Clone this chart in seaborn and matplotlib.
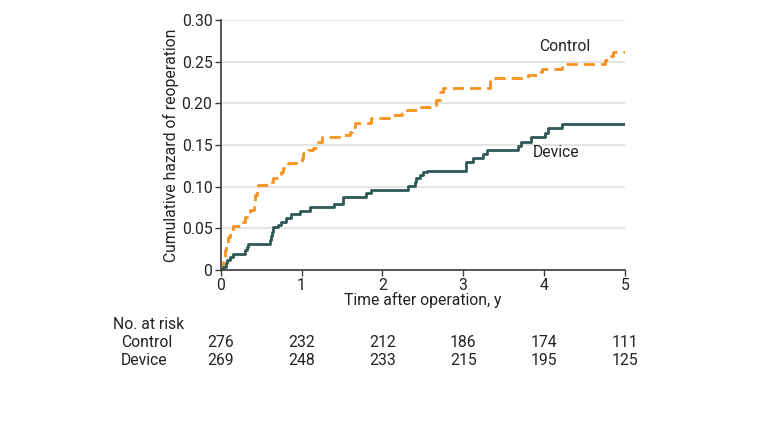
import matplotlib
matplotlib.use("Agg")
import matplotlib.pyplot as plt
import matplotlib.transforms as mtransforms
from matplotlib.ticker import FuncFormatter
import pandas as pd
import seaborn as sns

# step curves (years, cumulative hazard)
device_t = [0, 0.03, 0.06, 0.08, 0.11, 0.15, 0.30, 0.33, 0.34, 0.61, 0.62, 0.64, 0.65,
            0.71, 0.75, 0.81, 0.87, 0.98, 1.10, 1.40, 1.51, 1.80, 1.86, 2.32, 2.40, 2.42,
            2.46, 2.50, 2.55, 3.03, 3.12, 3.25, 3.29, 3.68, 3.71, 3.84, 4.01, 4.05, 4.22, 5.0]
device_h = [0, 0.003, 0.008, 0.012, 0.016, 0.019, 0.024, 0.028, 0.031, 0.036, 0.041, 0.046,
            0.051, 0.054, 0.058, 0.062, 0.067, 0.071, 0.075, 0.079, 0.088, 0.092, 0.096,
            0.101, 0.106, 0.110, 0.114, 0.117, 0.119, 0.129, 0.134, 0.139, 0.144, 0.149,
            0.154, 0.159, 0.164, 0.170, 0.175, 0.175]

control_t = [0, 0.01, 0.03, 0.05, 0.07, 0.09, 0.11, 0.15, 0.28, 0.30, 0.32, 0.36, 0.41, 0.43,
             0.45, 0.46, 0.59, 0.65, 0.75, 0.77, 0.83, 1.00, 1.02, 1.08, 1.14, 1.20, 1.25,
             1.49, 1.60, 1.62, 1.66, 1.86, 2.13, 2.24, 2.30, 2.48, 2.63, 2.67, 2.71, 2.75,
             3.33, 3.80, 3.95, 3.97, 4.22, 4.75, 4.81, 4.86, 5.0]
control_h = [0, 0.004, 0.016, 0.024, 0.030, 0.040, 0.046, 0.053, 0.058, 0.064, 0.070, 0.072,
             0.080, 0.090, 0.098, 0.102, 0.106, 0.110, 0.118, 0.122, 0.128, 0.134, 0.140,
             0.144, 0.146, 0.153, 0.159, 0.162, 0.166, 0.172, 0.176, 0.182, 0.186, 0.188,
             0.192, 0.196, 0.198, 0.204, 0.214, 0.218, 0.230, 0.234, 0.238, 0.241, 0.247,
             0.252, 0.257, 0.261, 0.261]

risk_years = [0, 1, 2, 3, 4, 5]
risk_control = [276, 232, 212, 186, 174, 111]
risk_device = [269, 248, 233, 215, 195, 125]

y_ticks = [0, 0.05, 0.10, 0.15, 0.20, 0.25, 0.30]

orange = "#f7921e"
teal = "#2e5955"
dark = "#3a3a3a"
txt = "#222222"
fs = 11.3

sns.set_theme(style="white")
plt.rcParams["font.family"] = ["Roboto", "DejaVu Sans"]
plt.rcParams["font.size"] = fs

df_dev = pd.DataFrame({"t": device_t, "h": device_h})
df_ctl = pd.DataFrame({"t": control_t, "h": control_h})

fig = plt.figure(figsize=(7.8, 4.38), dpi=100)
ax = fig.add_axes([0.283, 0.3836, 0.518, 0.5708])

ax.set_axisbelow(True)
ax.yaxis.grid(True, color="#dcdcdc", lw=1.1)
ax.xaxis.grid(False)

sns.lineplot(data=df_ctl, x="t", y="h", ax=ax, color=orange, lw=2,
             drawstyle="steps-post", estimator=None, sort=False)
ax.lines[-1].set_dashes([4, 2.2])
sns.lineplot(data=df_dev, x="t", y="h", ax=ax, color=teal, lw=2,
             drawstyle="steps-post", estimator=None, sort=False)

ax.set_xlim(0, 5)
ax.set_ylim(0, 0.30)
ax.set_xticks(risk_years)
ax.set_yticks(y_ticks)
ax.yaxis.set_major_formatter(FuncFormatter(lambda v, p: "0" if v == 0 else f"{v:.2f}"))

for s in ["top", "right"]:
    ax.spines[s].set_visible(False)
for s in ["left", "bottom"]:
    ax.spines[s].set_color(dark)
    ax.spines[s].set_linewidth(1.2)
ax.tick_params(axis="both", direction="out", length=4, width=1, color=dark,
               labelcolor=txt, labelsize=fs, pad=2, left=True, bottom=True)

ax.set_xlabel("Time after operation, y", fontsize=fs, color=txt)
ax.set_ylabel("Cumulative hazard of reoperation", fontsize=fs, color=txt)
ax.xaxis.set_label_coords(0.5, -0.09)
ax.yaxis.set_label_coords(-0.103, 0.5)

ax.text(4.26, 0.2676, "Control", ha="center", va="center", fontsize=fs, color=txt)
ax.text(4.15, 0.1404, "Device", ha="center", va="center", fontsize=fs, color=txt)

# number at risk table
trans = mtransforms.blended_transform_factory(ax.transData, fig.transFigure)
fig.text(0.1445, 0.258, "No. at risk", ha="left", va="center", fontsize=fs, color=txt)
fig.text(0.1547, 0.217, "Control", ha="left", va="center", fontsize=fs, color=txt)
fig.text(0.1547, 0.176, "Device", ha="left", va="center", fontsize=fs, color=txt)
for yr, c, d in zip(risk_years, risk_control, risk_device):
    ax.text(yr, 0.217, str(c), transform=trans, ha="center", va="center",
            fontsize=fs, color=txt, clip_on=False)
    ax.text(yr, 0.176, str(d), transform=trans, ha="center", va="center",
            fontsize=fs, color=txt, clip_on=False)

fig.savefig("out.png", dpi=100, facecolor="white")
